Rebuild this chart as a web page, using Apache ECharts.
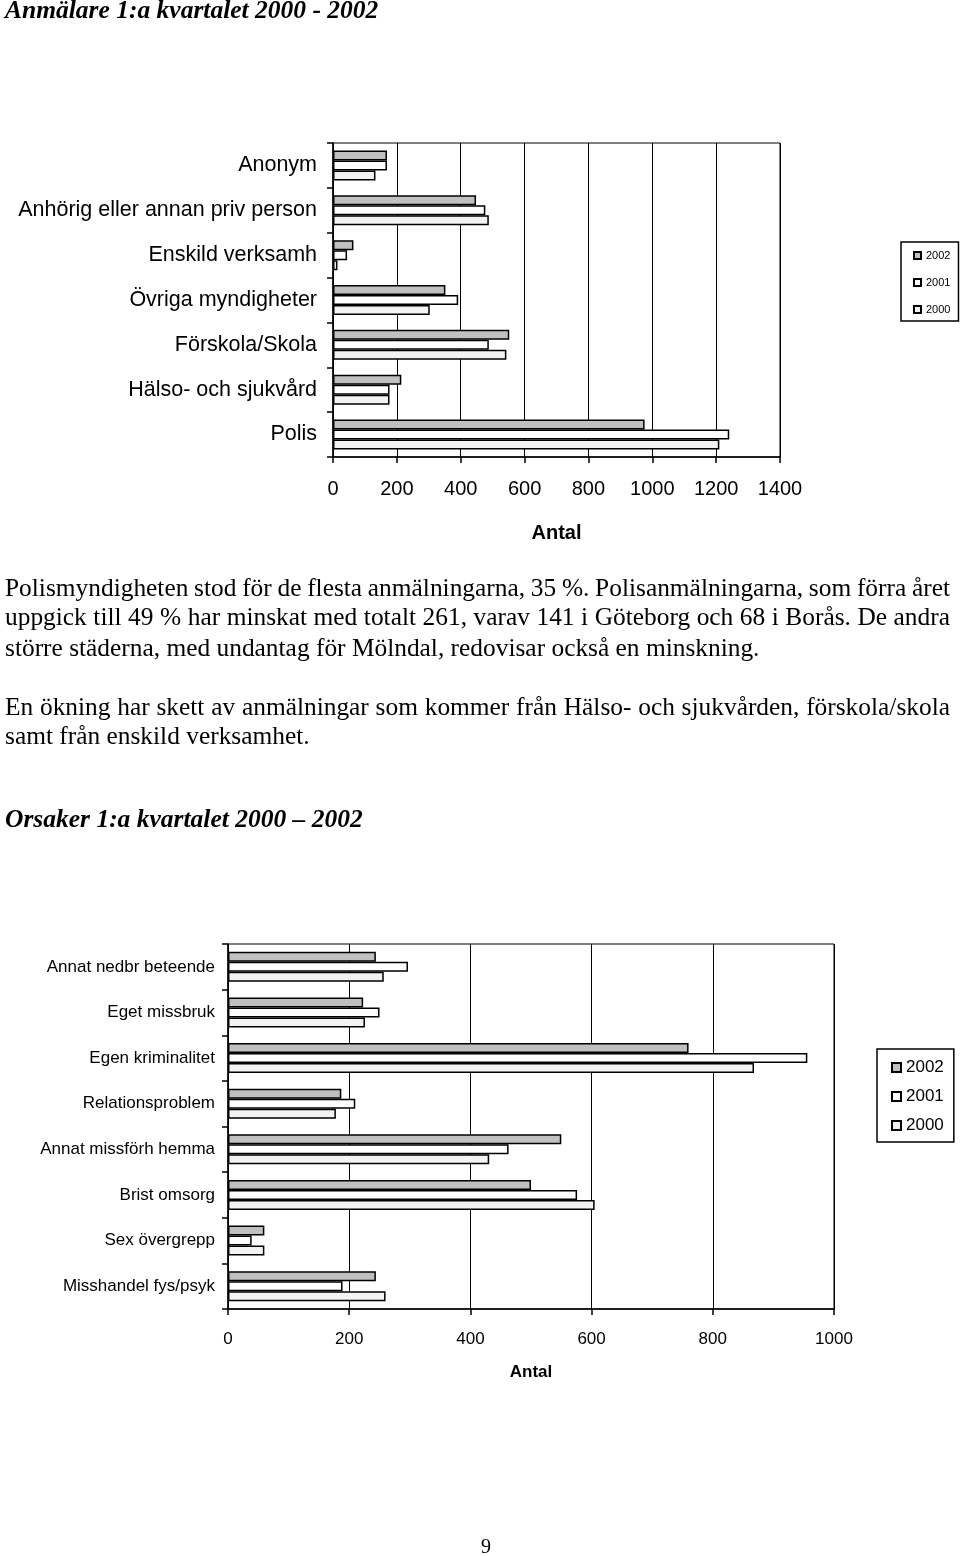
<!DOCTYPE html>
<html>
<head>
<meta charset="utf-8">
<script src="https://cdn.jsdelivr.net/npm/echarts@6/dist/echarts.min.js"></script>
<style>
  html, body { margin: 0; padding: 0; background: #fff; }
  #wrap { position: relative; width: 960px; height: 1556px; overflow: hidden; }
  #chart { position: absolute; left: 0; top: 0; width: 960px; height: 1556px; }
  .t { position: absolute; font-family: "Liberation Serif", "Times New Roman", serif; color: #000; white-space: nowrap; line-height: 30px; }
  .h { font-weight: bold; font-style: italic; font-size: 25.5px; left: 5px; }
  .p { font-size: 25.4px; left: 5px; width: 945px; text-align: justify; text-align-last: justify; }
  .p.last { text-align: left; text-align-last: left; }
</style>
</head>
<body>
<div id="wrap">
  <div id="chart"></div>
  <div class="t h" style="top:-5px">Anmälare 1:a kvartalet 2000 - 2002</div>
  <div class="t p" style="top:572px; word-spacing:-1.1px">Polismyndigheten stod för de flesta anmälningarna, 35 %. Polisanmälningarna, som förra året</div>
  <div class="t p" style="top:601px">uppgick till 49 % har minskat med totalt 261, varav 141 i Göteborg och 68 i Borås. De andra</div>
  <div class="t p last" style="top:632px">större städerna, med undantag för Mölndal, redovisar också en minskning.</div>
  <div class="t p" style="top:691px">En ökning har skett av anmälningar som kommer från Hälso- och sjukvården, förskola/skola</div>
  <div class="t p last" style="top:720px">samt från enskild verksamhet.</div>
  <div class="t h" style="top:804px">Orsaker 1:a kvartalet 2000 – 2002</div>
  <div class="t" style="top:1531px; left:481px; font-size:20px;">9</div>
</div>
<script>
// ---- Data: chart 1 (Anmälare) ----
const categories1 = ['Anonym', 'Anhörig eller annan priv person', 'Enskild verksamh', 'Övriga myndigheter', 'Förskola/Skola', 'Hälso- och sjukvård', 'Polis'];
const anm2002 = [169, 448, 64, 352, 552, 214, 976];
const anm2001 = [169, 477, 44, 392, 488, 177, 1241];
const anm2000 = [133, 488, 14, 303, 543, 177, 1210];
const xTicks1 = [0, 200, 400, 600, 800, 1000, 1200, 1400];

// ---- Data: chart 2 (Orsaker) ----
const categories2 = ['Annat nedbr beteende', 'Eget missbruk', 'Egen kriminalitet', 'Relationsproblem', 'Annat missförh hemma', 'Brist omsorg', 'Sex övergrepp', 'Misshandel fys/psyk'];
const ors2002 = [244, 223, 760, 187, 550, 500, 60, 244];
const ors2001 = [297, 250, 956, 210, 463, 576, 39, 189];
const ors2000 = [257, 226, 868, 178, 431, 605, 60, 260];
const xTicks2 = [0, 200, 400, 600, 800, 1000];

const years = ['2002', '2001', '2000'];
const yearColors = { '2002': '#c0c0c0', '2001': '#ffffff', '2000': '#f3f3f3' };

const SANS = '"Liberation Sans", Arial, sans-serif';
const chart = echarts.init(document.getElementById('chart'), null, { renderer: 'canvas' });

function xAxisFor(gridIndex, ticks, fs, margin, nameGap) {
  return {
    type: 'value', gridIndex: gridIndex,
    min: ticks[0], max: ticks[ticks.length - 1], interval: ticks[1] - ticks[0],
    axisLine: { show: true, lineStyle: { color: '#000', width: 1.5 } },
    axisTick: { show: true, length: 6, lineStyle: { color: '#000', width: 1.5 } },
    splitLine: { show: true, lineStyle: { color: '#000', width: 1 } },
    axisLabel: { color: '#000', fontSize: fs, fontFamily: SANS, margin: margin, formatter: function (v) { return String(v); } },
    name: 'Antal', nameLocation: 'middle', nameGap: nameGap,
    nameTextStyle: { color: '#000', fontSize: fs, fontWeight: 'bold', fontFamily: SANS }
  };
}
function yAxisFor(gridIndex, cats, fs, margin) {
  return {
    type: 'category', gridIndex: gridIndex, data: cats, inverse: true,
    axisLine: { show: true, lineStyle: { color: '#000', width: 1.5 } },
    axisTick: { show: true, length: 6, lineStyle: { color: '#000', width: 1.5 } },
    axisLabel: { color: '#000', fontSize: fs, fontFamily: SANS, margin: margin },
    splitLine: { show: false }
  };
}
function barSeries(name, data, idx, bw) {
  return {
    name: name, type: 'bar', xAxisIndex: idx, yAxisIndex: idx, data: data,
    barWidth: bw, barGap: '0%',
    itemStyle: { color: yearColors[name], borderColor: '#000', borderWidth: 1.5 },
    emphasis: { disabled: true },
    animation: false
  };
}

chart.setOption({
  backgroundColor: '#fff',
  animation: false,
  grid: [
    { left: 333, top: 143, width: 447, height: 314, show: true, borderColor: '#000', borderWidth: 1, backgroundColor: 'transparent' },
    { left: 228, top: 944, width: 606, height: 365, show: true, borderColor: '#000', borderWidth: 1, backgroundColor: 'transparent' }
  ],
  xAxis: [ xAxisFor(0, xTicks1, 20, 22, 66), xAxisFor(1, xTicks2, 17, 22, 55) ],
  yAxis: [ yAxisFor(0, categories1, 21.5, 16), yAxisFor(1, categories2, 17, 13) ],
  legend: [
    {
      data: years, orient: 'vertical', left: 901, top: 242,
      icon: 'rect', itemWidth: 7, itemHeight: 7, itemGap: 16,
      padding: [8, 8, 6, 12],
      borderColor: '#000', borderWidth: 1.5,
      textStyle: { color: '#000', fontSize: 11, fontFamily: SANS },
      selectedMode: false
    },
    {
      data: years, orient: 'vertical', left: 877, top: 1049,
      icon: 'rect', itemWidth: 9, itemHeight: 9, itemGap: 12,
      padding: [10, 10, 8, 14],
      borderColor: '#000', borderWidth: 1.5,
      textStyle: { color: '#000', fontSize: 17, fontFamily: SANS },
      selectedMode: false
    }
  ],
  series: [
    barSeries('2002', anm2002, 0, 10),
    barSeries('2001', anm2001, 0, 10),
    barSeries('2000', anm2000, 0, 10),
    barSeries('2002', ors2002, 1, 10),
    barSeries('2001', ors2001, 1, 10),
    barSeries('2000', ors2000, 1, 10)
  ]
});
</script>
</body>
</html>
